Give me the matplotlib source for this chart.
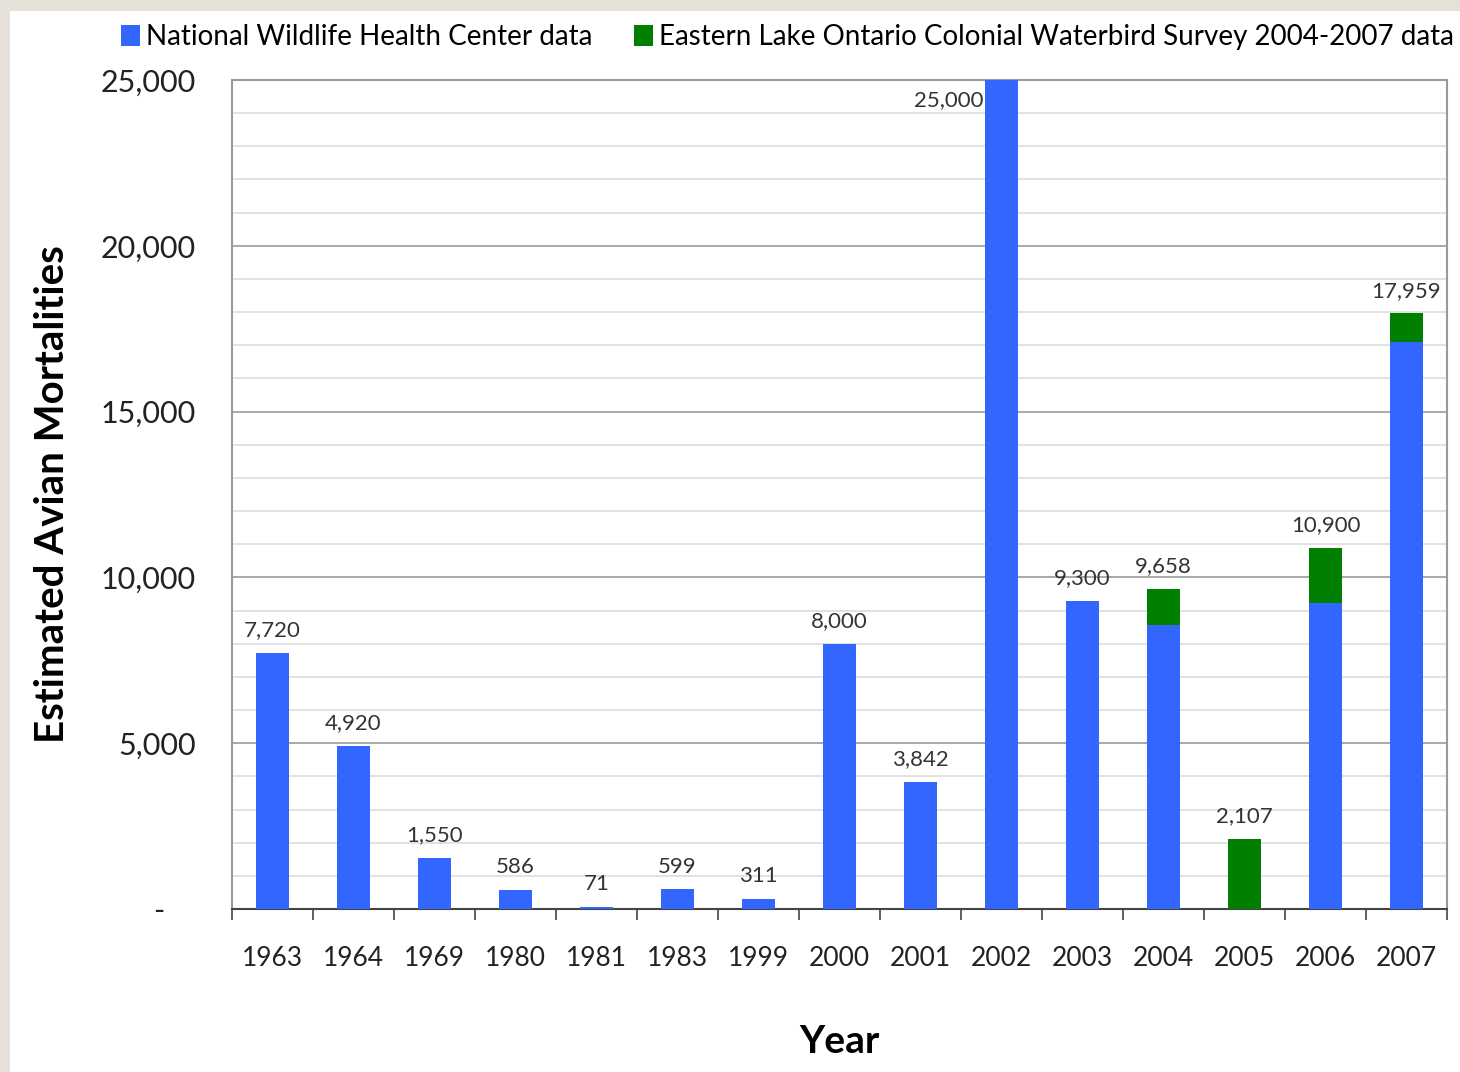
import matplotlib.pyplot as plt
import numpy as np
from matplotlib.ticker import FuncFormatter, MultipleLocator
from matplotlib.patches import Rectangle

plt.rcParams['font.family'] = ['Lato', 'DejaVu Sans']

# data
years = ['1963', '1964', '1969', '1980', '1981', '1983', '1999', '2000',
         '2001', '2002', '2003', '2004', '2005', '2006', '2007']
nwhc = [7720, 4920, 1550, 586, 71, 599, 311, 8000, 3842, 25000, 9300, 8560, 0, 9230, 17100]
elo = [0, 0, 0, 0, 0, 0, 0, 0, 0, 0, 0, 1098, 2107, 1670, 859]
totals = [7720, 4920, 1550, 586, 71, 599, 311, 8000, 3842, 25000, 9300, 9658, 2107, 10900, 17959]

blue = '#3366ff'
green = '#007f00'

fig = plt.figure(figsize=(14.6, 10.72), dpi=100)
fig.patch.set_facecolor('#e6e1d8')
fig.patches.append(Rectangle((0.007, 0), 0.993, 0.99, transform=fig.transFigure,
                             facecolor='white', edgecolor='none', zorder=-1))
ax = fig.add_axes([232 / 1460, 1 - 909 / 1072, (1447 - 232) / 1460, (909 - 80) / 1072])

x = np.arange(len(years))
w = 0.41
ax.bar(x, nwhc, w, color=blue, label='National Wildlife Health Center data', zorder=3)
ax.bar(x, elo, w, bottom=nwhc, color=green,
       label='Eastern Lake Ontario Colonial Waterbird Survey 2004-2007 data', zorder=3)

for i, t in enumerate(totals):
    if t >= 25000:
        ax.text(i - w / 2 - 0.02, t - 300, f'{t:,}', ha='right', va='top', fontsize=16, color='#333333')
    else:
        ax.text(i, t + 380, f'{t:,}', ha='center', va='bottom', fontsize=16, color='#333333')

ax.set_xlim(-0.5, len(years) - 0.5)
ax.set_ylim(0, 25000)
ax.yaxis.set_major_locator(MultipleLocator(5000))
ax.yaxis.set_minor_locator(MultipleLocator(1000))
ax.yaxis.set_major_formatter(FuncFormatter(lambda v, p: '-    ' if v == 0 else f'{int(v):,}'))
ax.grid(axis='y', which='major', color='#999999', linewidth=1.2, zorder=0)
ax.grid(axis='y', which='minor', color='#dddddd', linewidth=1.2, zorder=0)

ax.set_xticks(x)
ax.set_xticklabels(years)
ax.set_xticks(np.arange(-0.5, len(years)), minor=True)
ax.tick_params(axis='x', which='major', length=0, labelsize=19, pad=27, colors='#222222')
ax.tick_params(axis='x', which='minor', length=8, width=1.2, color='#444444')
ax.tick_params(axis='y', which='both', length=0, labelsize=22, pad=26, colors='#222222')

for s in ['top', 'right', 'left']:
    ax.spines[s].set_color('#999999')
    ax.spines[s].set_linewidth(1.5)
ax.spines['bottom'].set_color('#444444')
ax.spines['bottom'].set_linewidth(1.5)

ax.set_xlabel('Year', fontsize=28, fontweight='bold', labelpad=38)
ax.set_ylabel('Estimated Avian Mortalities', fontsize=29, fontweight='bold', labelpad=21)

fig.legend(loc='center', bbox_to_anchor=(787 / 1460, 1 - 37 / 1072), ncol=2, frameon=False,
           fontsize=20, handlelength=0.7, handleheight=0.8, handletextpad=0.2,
           columnspacing=1.5)

fig.savefig('out.png', dpi=100, facecolor=fig.get_facecolor())
